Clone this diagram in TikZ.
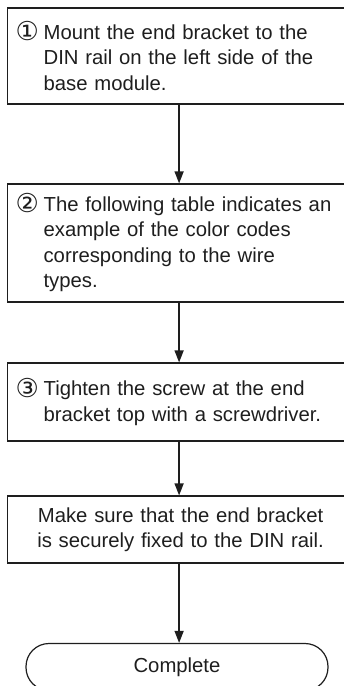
\documentclass[tikz,border=0pt]{standalone}
\usepackage{fontspec}
\setmainfont{Liberation Sans}
\newfontfamily\dejavu{DejaVu Sans}
\usetikzlibrary{arrows.meta}
\definecolor{ink}{HTML}{1E1E1E}
\newcommand{\stepnum}[1]{\makebox[28pt][l]{\raisebox{-1.5pt}{\fontsize{26}{25}\selectfont\dejavu #1}}}
\newcommand{\hang}{\hspace*{28pt}}
\tikzset{
  stepbox/.style={draw=ink, line width=1.2pt, rectangle, anchor=west,
    text width=330pt, inner xsep=8pt, inner ysep=0pt, align=left,
    font=\fontsize{20.3}{25.5}\selectfont, text=ink},
  centerbox/.style={stepbox, align=center},
  endbox/.style={draw=ink, line width=1.2pt, rectangle, rounded corners=23pt,
    minimum width=302pt, minimum height=47pt, inner sep=0pt,
    font=\fontsize{20.3}{25}\selectfont, text=ink},
  flow/.style={draw=ink, line width=1.5pt, -{Triangle[length=12pt,width=9pt]}}
}
\begin{document}
\begin{tikzpicture}[x=1pt,y=-1pt]
\useasboundingbox (0,0) rectangle (344,686);
\node[stepbox, minimum height=96pt] (b1) at (7,56)
  {\stepnum{①}Mount the end bracket to the\\\hang DIN rail on the left side of the\\\hang base module.};
\node[stepbox, minimum height=118pt] (b2) at (7,243)
  {\stepnum{②}The following table indicates an\\\hang example of the color codes\\\hang corresponding to the wire\\\hang types.};
\node[stepbox, minimum height=78pt] (b3) at (7,402)
  {\stepnum{③}Tighten the screw at the end\\\hang bracket top with a screwdriver.};
\node[centerbox, minimum height=67pt] (b4) at (7,529.5)
  {Make sure that the end bracket\\is securely fixed to the DIN rail.};
\node[endbox] (done) at (177,667) {Complete};
\draw[flow] ([xshift=-1.5pt]b1.south) -- ([xshift=-1.5pt]b2.north);
\draw[flow] ([xshift=-1.5pt]b2.south) -- ([xshift=-1.5pt]b3.north);
\draw[flow] ([xshift=-1.5pt]b3.south) -- ([xshift=-1.5pt]b4.north);
\draw[flow] ([xshift=-1.5pt]b4.south) -- ([xshift=-1.5pt]b4.south |- done.north);
\end{tikzpicture}
\end{document}
